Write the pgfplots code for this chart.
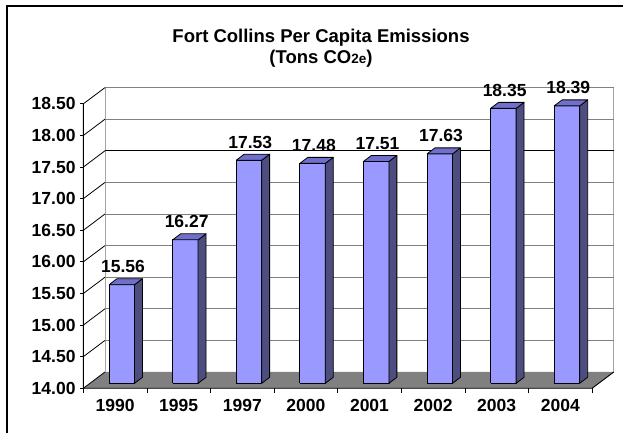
\documentclass[border=0pt]{standalone}
\usepackage{pgfplots}
\pgfplotsset{compat=1.18}
\usepackage{pgfplotstable}
\usepackage{fontspec}
\setmainfont{Liberation Sans}

\definecolor{barfront}{RGB}{153,153,255}
\definecolor{barside}{RGB}{77,77,128}
\definecolor{bartop}{RGB}{112,112,204}
\definecolor{floorgray}{RGB}{128,128,128}
\definecolor{gridgray}{RGB}{128,128,128}
\definecolor{wallgray}{RGB}{165,165,165}

\newcommand\lblfont{\fontsize{17.5bp}{20bp}\selectfont\bfseries}

% per capita emissions, tons CO2e
\pgfplotstableread{
idx year v
0 1990 15.56
1 1995 16.27
2 1997 17.53
3 2000 17.48
4 2001 17.51
5 2002 17.63
6 2003 18.35
7 2004 18.39
}\emissions

% oblique depth of the chart box (axis units)
\def\DX{0.341}
\def\DY{0.258}
% front plane of the columns, column offset/width, column depth
\def\SX{0.105}
\def\SY{0.079}
\def\BL{0.30}
\def\BW{0.40}
\def\PX{0.125}
\def\PY{0.095}

\begin{document}
\begin{tikzpicture}
\useasboundingbox (0,0) rectangle (623bp,433bp);
% chart area border
\draw[line width=2bp] (7bp,-20bp) -- (7bp,426.5bp) -- (650bp,426.5bp);

% title
\node[anchor=base, font=\fontsize{18.5bp}{22bp}\selectfont\bfseries] at (321bp,390bp)
  {Fort Collins Per Capita Emissions};
\node[anchor=base, font=\fontsize{18.5bp}{22bp}\selectfont\bfseries] at (321bp,369bp)
  {(Tons CO{\fontsize{13.5bp}{14bp}\selectfont 2e})};

\begin{axis}[
  at={(83.3bp,44.7bp)}, anchor=south west,
  scale only axis,
  width=534.24bp, height=309.68bp,
  xmin=0, xmax=8.4, ymin=14, ymax=18.9,
  clip=false,
  axis line style={draw=none},
  tick pos=left,
  tick align=outside,
  /pgf/number format/assume math mode=true,
  ytick={14,14.5,...,18.5},
  yticklabel style={font=\lblfont, /pgf/number format/.cd, fixed, fixed zerofill, precision=2},
  ytick style={draw=none},
  xtick={0.5,1.5,...,7.5},
  xticklabels={1990,1995,1997,2000,2001,2002,2003,2004},
  xticklabel style={font=\lblfont, yshift=-3bp},
  xtick style={draw=none},
  unbounded coords=jump,
]

% floor
\addplot[fill=floorgray, draw=none] coordinates {(0,14) (8,14) (8.341,14.258) (0.341,14.258) (0,14)};

% back wall edges
\addplot[wallgray, line width=0.9bp] coordinates {(0.341,14.258) (0.341,18.758)};
\addplot[wallgray, line width=0.9bp] coordinates {(8.341,14.258) (8.341,18.758)};

% gridlines: side wall diagonals and back wall lines
\pgfplotsinvokeforeach{14.5,15,15.5,16,16.5,17,17.5,18,18.5}{
  \pgfmathsetmacro\gb{#1+\DY}
  \addplot[black, line width=0.8bp] coordinates {(0,#1) (0.341,\gb)};
  \addplot[gridgray, line width=0.9bp] coordinates {(0.341,\gb) (8.341,\gb)};
}
\addplot[black, line width=0.9bp] coordinates {(0.341,17.758) (8.341,17.758)};

% front axes and floor edges
\addplot[black, line width=0.9bp] coordinates {(0,18.5) (0,14) (8,14) (8.341,14.258)};
\addplot[black, line width=0.8bp] coordinates {(0,14) (0.341,14.258)};

% tick marks
\addplot[black, line width=0.8bp] coordinates {
  (0,14) (-0.05,14) (nan,nan) (0,14.5) (-0.05,14.5) (nan,nan)
  (0,15) (-0.05,15) (nan,nan) (0,15.5) (-0.05,15.5) (nan,nan)
  (0,16) (-0.05,16) (nan,nan) (0,16.5) (-0.05,16.5) (nan,nan)
  (0,17) (-0.05,17) (nan,nan) (0,17.5) (-0.05,17.5) (nan,nan)
  (0,18) (-0.05,18) (nan,nan) (0,18.5) (-0.05,18.5)};
\addplot[black, line width=0.8bp] coordinates {
  (0,14) (0,13.93) (nan,nan) (1,14) (1,13.93) (nan,nan)
  (2,14) (2,13.93) (nan,nan) (3,14) (3,13.93) (nan,nan)
  (4,14) (4,13.93) (nan,nan) (5,14) (5,13.93) (nan,nan)
  (6,14) (6,13.93) (nan,nan) (7,14) (7,13.93) (nan,nan)
  (8,14) (8,13.93)};

% columns: front, side and top faces
\pgfplotsinvokeforeach{0,...,7}{
  \pgfplotstablegetelem{#1}{v}\of\emissions
  \pgfmathsetmacro\xl{#1+\SX+\BL}
  \pgfmathsetmacro\xr{\xl+\BW}
  \pgfmathsetmacro\xlr{\xl+\PX}
  \pgfmathsetmacro\xrr{\xr+\PX}
  \pgfmathsetmacro\yb{14+\SY}
  \pgfmathsetmacro\ybb{\yb+\PY}
  \pgfmathsetmacro\yt{\pgfplotsretval+\SY}
  \pgfmathsetmacro\ytt{\yt+\PY}
  \addplot[fill=barfront, draw=black, line width=0.8bp, line join=round]
    coordinates {(\xl,\yb) (\xr,\yb) (\xr,\yt) (\xl,\yt) (\xl,\yb)};
  \addplot[fill=barside, draw=black, line width=0.8bp, line join=round]
    coordinates {(\xr,\yb) (\xrr,\ybb) (\xrr,\ytt) (\xr,\yt) (\xr,\yb)};
  \addplot[fill=bartop, draw=black, line width=0.8bp, line join=round]
    coordinates {(\xl,\yt) (\xr,\yt) (\xrr,\ytt) (\xlr,\ytt) (\xl,\yt)};
}

% value labels
\addplot[draw=none, nodes near coords, point meta=explicit,
  nodes near coords={\pgfmathprintnumber[fixed,fixed zerofill,precision=2,assume math mode=true]{\pgfplotspointmeta}},
  nodes near coords style={anchor=base, yshift=17bp, inner sep=0pt, text=black, font=\lblfont}]
  table[x expr=\thisrow{idx}+0.625, y=v, meta=v] {\emissions};
\end{axis}
\end{tikzpicture}
\end{document}
